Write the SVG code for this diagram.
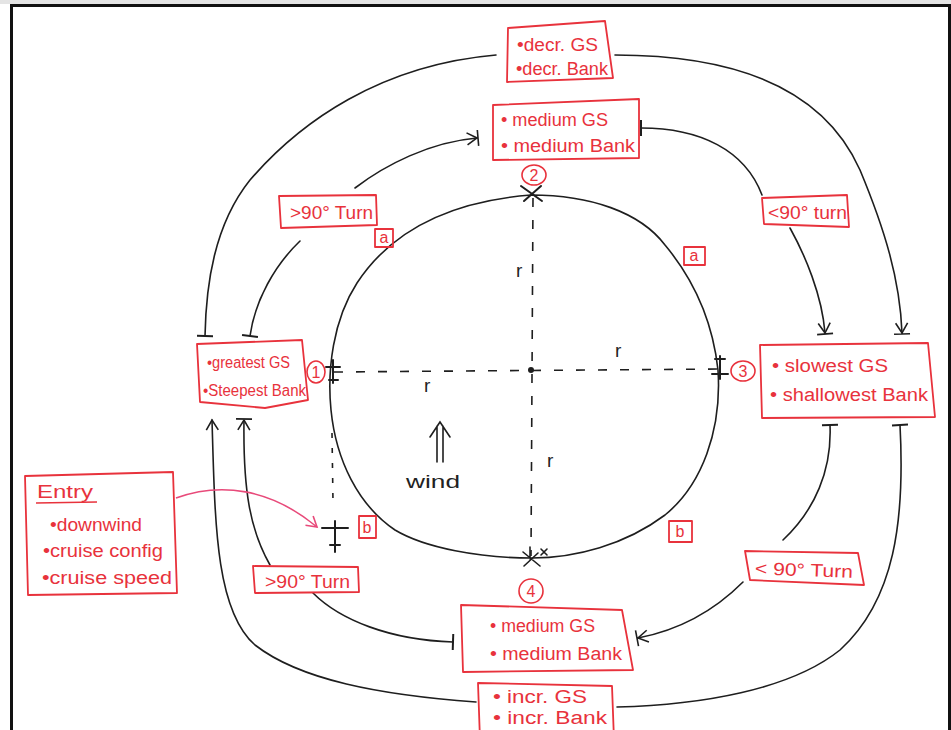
<svg xmlns="http://www.w3.org/2000/svg" width="951" height="730" viewBox="0 0 951 730">
<defs>
<style>
.bg{fill:#ffffff}
.frame{fill:none;stroke:#111;stroke-width:3}
.box{fill:none;stroke:#e8323c;stroke-width:1.8;stroke-linejoin:round}
.t{font-family:"Liberation Sans","DejaVu Sans",sans-serif;font-size:18px;fill:#e8323c}
.num{font-family:"Liberation Sans","DejaVu Sans",sans-serif;font-size:16px;fill:#e8323c;text-anchor:middle}
.k{font-family:"Liberation Sans","DejaVu Sans",sans-serif;font-size:19px;fill:#222}
.ln{fill:none;stroke:#1e1e1e;stroke-width:1.6;stroke-linecap:round}
.dash{fill:none;stroke:#1e1e1e;stroke-width:1.6;stroke-dasharray:9 13}
.plane{fill:none;stroke:#1e1e1e;stroke-width:2;stroke-linecap:round}
.entry{fill:none;stroke:#e84a7a;stroke-width:1.6}
</style>
<marker id="arr" viewBox="-14 -9 18 18" refX="0" refY="0" markerWidth="18" markerHeight="18" orient="auto" markerUnits="userSpaceOnUse"><path d="M-10,-6 L0,0 L-10,6" fill="none" stroke="#1e1e1e" stroke-width="1.6"/></marker>
<marker id="arrbar" viewBox="-14 -10 18 20" refX="0" refY="0" markerWidth="18" markerHeight="20" orient="auto" markerUnits="userSpaceOnUse"><path d="M-10,-6 L0,0 L-10,6 M1,-8 L1,8" fill="none" stroke="#1e1e1e" stroke-width="1.6"/></marker>
<marker id="tee" viewBox="-4 -10 8 20" refX="0" refY="0" markerWidth="8" markerHeight="20" orient="auto" markerUnits="userSpaceOnUse"><path d="M0,-8 L0,8" fill="none" stroke="#1e1e1e" stroke-width="2"/></marker>
<marker id="parr" viewBox="-14 -9 18 18" refX="0" refY="0" markerWidth="18" markerHeight="18" orient="auto" markerUnits="userSpaceOnUse"><path d="M-10,-6 L0,0 L-10,6" fill="none" stroke="#e84a7a" stroke-width="1.6"/></marker>
</defs>

<rect class="bg" x="0" y="0" width="951" height="730"/>
<rect x="0" y="0" width="951" height="4" fill="#e4e4e4"/>
<rect class="frame" x="11.5" y="5.5" width="938" height="730"/>

<g id="track">
<path class="ln" d="M531 195 C590 195,640 212,665 245 C690 275,712 315,718 370 C722 430,702 485,665 515 C625 545,575 558,532 558 C480 558,425 548,395 530 C358 505,336 460,331 410 C327 370,333 320,357 283 C382 245,430 203,531 195 Z"/>
<path class="dash" d="M533 198 L531 556"/>
<path class="dash" d="M334 372 L720 369"/>
<path class="dash" d="M332 433 L333 502" style="stroke-dasharray:5 10"/>
<circle cx="531" cy="370" r="3" fill="#1e1e1e"/>
<text class="k" x="516" y="277">r</text>
<text class="k" x="424" y="392">r</text>
<text class="k" x="615" y="357">r</text>
<text class="k" x="547" y="467">r</text>
</g>

<g id="wind">
<path class="ln" d="M437 426 L437 462 M443 426 L443 462 M430 437 L440 422 L450 437"/>
<text class="k" x="406" y="488" textLength="54" lengthAdjust="spacingAndGlyphs">wind</text>
</g>

<g id="planes">
<path class="plane" d="M326 367 L340 367 M333 360 L333 383 M329 380 L338 380"/>
<path class="plane" d="M720 356 L720 379 M715 359 L725 359 M712 374 L728 374"/>
<path class="plane" d="M521 186 L542 201 M524 201 L541 186"/>
<path class="plane" d="M523 552 L540 566 M524 566 L538 553 M530 547 L530 559 M541 549 L547 555 M547 549 L541 555" style="stroke-width:1.6"/>
<path class="plane" d="M322 528 L348 528 M335 521 L335 552 M330 545 L340 545"/>
</g>

<g id="connectors">
<path class="ln" d="M205 336 C206 285,214 225,250 180 C300 122,380 65,496 55" marker-start="url(#tee)"/>
<path class="ln" d="M615 55 C720 55,820 80,860 170 C885 230,900 280,902 333" marker-end="url(#arrbar)"/>
<path class="ln" d="M250 336 C255 300,275 265,300 241" marker-start="url(#tee)"/>
<path class="ln" d="M355 188 C385 165,430 142,477 138" marker-end="url(#arrbar)"/>
<path class="ln" d="M641 128 C700 128,745 150,762 195" marker-start="url(#tee)"/>
<path class="ln" d="M790 228 C805 255,822 295,825 333" marker-end="url(#arrbar)"/>
<path class="ln" d="M830 425 C832 470,815 510,783 540" marker-start="url(#tee)"/>
<path class="ln" d="M743 582 C715 610,680 630,638 638" marker-end="url(#arrbar)"/>
<path class="ln" d="M900 425 C905 520,895 600,840 650 C790 690,700 705,617 707" marker-start="url(#tee)"/>
<path class="ln" d="M476 702 C380 695,300 680,255 645 C215 610,215 520,212 420" marker-end="url(#arr)"/>
<path class="ln" d="M270 565 C250 530,243 490,244 420" marker-end="url(#arrbar)"/>
<path class="ln" d="M313 593 C340 620,390 640,453 642" marker-end="url(#tee)"/>
<path class="entry" d="M176 498 C220 482,270 488,317 527" marker-end="url(#parr)"/>
</g>

<g id="decr">
<path class="box" d="M508 28 L605 21 L613 78 L507 82 Z"/>
<text class="t" x="517" y="51" textLength="81" lengthAdjust="spacingAndGlyphs">•decr. GS</text>
<text class="t" x="516" y="75" textLength="92" lengthAdjust="spacingAndGlyphs">•decr. Bank</text>
</g>

<g id="medium-top">
<path class="box" d="M493 105 L639 99 L639 158 L493 160 Z"/>
<text class="t" x="501" y="126" textLength="107" lengthAdjust="spacingAndGlyphs">• medium GS</text>
<text class="t" x="501" y="152" textLength="134" lengthAdjust="spacingAndGlyphs">• medium Bank</text>
<ellipse cx="534" cy="175" rx="12" ry="10" fill="none" stroke="#e8323c" stroke-width="1.6"/>
<text class="num" x="534" y="181">2</text>
</g>

<g id="turn-tl">
<path class="box" d="M279 196 L376 195 L377 225 L281 228 Z"/>
<text class="t" x="290" y="219" textLength="83" lengthAdjust="spacingAndGlyphs">&gt;90° Turn</text>
</g>

<g id="a-left">
<rect class="box" x="375" y="229" width="18" height="18"/>
<text class="num" x="384" y="243">a</text>
</g>

<g id="a-right">
<rect class="box" x="684" y="247" width="21" height="18"/>
<text class="num" x="694" y="261">a</text>
</g>

<g id="turn-tr">
<path class="box" d="M762 198 L847 195 L849 227 L764 224 Z"/>
<text class="t" x="768" y="219" textLength="79" lengthAdjust="spacingAndGlyphs">&lt;90° turn</text>
</g>

<g id="greatest">
<path class="box" d="M197 344 L302 340 L308 400 L265 408 L200 402 Z"/>
<text class="t" x="207" y="368" textLength="83" lengthAdjust="spacingAndGlyphs" style="font-size:16px">•greatest GS</text>
<text class="t" x="203" y="396" textLength="103" lengthAdjust="spacingAndGlyphs" style="font-size:16px">•Steepest Bank</text>
<ellipse cx="316" cy="372" rx="9" ry="11" fill="none" stroke="#e8323c" stroke-width="1.6"/>
<text class="num" x="316" y="378">1</text>
</g>

<g id="slowest">
<path class="box" d="M760 345 L928 343 L935 417 L762 418 Z"/>
<text class="t" x="772" y="372" textLength="116" lengthAdjust="spacingAndGlyphs">• slowest GS</text>
<text class="t" x="770" y="401" textLength="158" lengthAdjust="spacingAndGlyphs">• shallowest Bank</text>
<ellipse cx="743" cy="371" rx="12" ry="10" fill="none" stroke="#e8323c" stroke-width="1.6"/>
<text class="num" x="743" y="377">3</text>
</g>

<g id="entry">
<path class="box" d="M25 476 L173 472 L177 593 L28 595 Z"/>
<text class="t" x="37" y="498" textLength="56" lengthAdjust="spacingAndGlyphs">Entry</text>
<path d="M36 503 L97 502" stroke="#e8323c" stroke-width="1.6" fill="none"/>
<text class="t" x="50" y="531" textLength="92" lengthAdjust="spacingAndGlyphs">•downwind</text>
<text class="t" x="43" y="557" textLength="120" lengthAdjust="spacingAndGlyphs">•cruise config</text>
<text class="t" x="42" y="584" textLength="130" lengthAdjust="spacingAndGlyphs">•cruise speed</text>
</g>

<g id="b-left">
<rect class="box" x="359" y="516" width="17" height="22"/>
<text class="num" x="367" y="533">b</text>
</g>

<g id="b-right">
<rect class="box" x="669" y="521" width="23" height="21"/>
<text class="num" x="680" y="537">b</text>
</g>

<g id="turn-bl">
<path class="box" d="M253 566 L358 567 L359 592 L255 593 Z"/>
<text class="t" x="265" y="588" textLength="85" lengthAdjust="spacingAndGlyphs">&gt;90° Turn</text>
</g>

<g id="turn-br">
<path class="box" d="M745 551 L858 553 L864 585 L750 580 Z"/>
<text class="t" x="755" y="576" textLength="98" lengthAdjust="spacingAndGlyphs" transform="rotate(2 800 570)">&lt; 90° Turn</text>
</g>

<g id="medium-bottom">
<path class="box" d="M461 605 L622 610 L633 670 L463 672 Z"/>
<text class="t" x="490" y="632" textLength="105" lengthAdjust="spacingAndGlyphs">• medium GS</text>
<text class="t" x="490" y="660" textLength="132" lengthAdjust="spacingAndGlyphs">• medium Bank</text>
<ellipse cx="531" cy="591" rx="12" ry="12" fill="none" stroke="#e8323c" stroke-width="1.6"/>
<text class="num" x="531" y="597">4</text>
</g>

<g id="incr">
<path class="box" d="M478 683 L612 686 L614 740 L480 740 Z"/>
<text class="t" x="493" y="703" textLength="94" lengthAdjust="spacingAndGlyphs">• incr. GS</text>
<text class="t" x="493" y="724" textLength="114" lengthAdjust="spacingAndGlyphs">• incr. Bank</text>
</g>
</svg>
